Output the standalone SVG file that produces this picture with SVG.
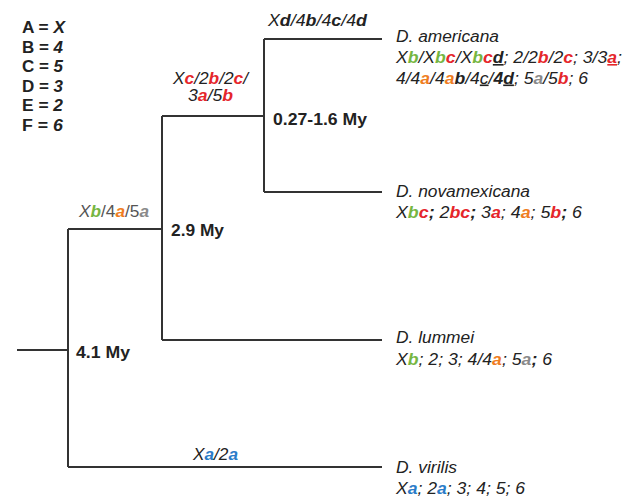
<svg xmlns="http://www.w3.org/2000/svg" width="630" height="500" viewBox="0 0 630 500">
<style>
text{font-family:"Liberation Sans",Arial,sans-serif;font-size:16px;fill:#222}
.i{font-style:italic}
.b{font-weight:bold}
.g{fill:#76b642;font-weight:bold}
.r{fill:#e5262b;font-weight:bold}
.o{fill:#ef7d22;font-weight:bold}
.y{fill:#8a8a8a;font-weight:bold}
.bl{fill:#2a7cc8;font-weight:bold}
.k{font-weight:bold}
.u{text-decoration:underline}
.gr{fill:#555}
.ln{stroke:#333;stroke-width:2;fill:none}
</style>
<rect width="630" height="500" fill="#fff"/>
<g id="legend">
<text class="b" x="22" y="33" textLength="43" lengthAdjust="spacingAndGlyphs">A = <tspan class="i">X</tspan></text>
<text class="b" x="22" y="52.5" textLength="41" lengthAdjust="spacingAndGlyphs">B = <tspan class="i">4</tspan></text>
<text class="b" x="22" y="72" textLength="41" lengthAdjust="spacingAndGlyphs">C = <tspan class="i">5</tspan></text>
<text class="b" x="22" y="91.5" textLength="41" lengthAdjust="spacingAndGlyphs">D = <tspan class="i">3</tspan></text>
<text class="b" x="22" y="111" textLength="41" lengthAdjust="spacingAndGlyphs">E = <tspan class="i">2</tspan></text>
<text class="b" x="22" y="130.5" textLength="41" lengthAdjust="spacingAndGlyphs">F = <tspan class="i">6</tspan></text>
</g>
<g id="connectors">
<path class="ln" d="M17 350H68M68 229V467M68 229H162M162 116V340M162 116H264M264 39V192M264 39H382M264 192H382M162 340H382M68 467H382"/>
</g>
<g id="node-root">
<text class="b" x="76" y="358" textLength="54" lengthAdjust="spacingAndGlyphs">4.1 My</text>
</g>
<g id="node-29">
<text class="i" x="79" y="217" textLength="70" lengthAdjust="spacingAndGlyphs"><tspan class="gr">X</tspan><tspan class="g">b</tspan><tspan class="gr" font-style="normal">/4</tspan><tspan class="o">a</tspan><tspan class="gr" font-style="normal">/5</tspan><tspan class="y" font-weight="normal">a</tspan></text>
<text class="b" x="171" y="236" textLength="53" lengthAdjust="spacingAndGlyphs">2.9 My</text>
</g>
<g id="node-027">
<text class="i" x="173" y="84" textLength="75" lengthAdjust="spacingAndGlyphs">X<tspan class="r">c</tspan>/2<tspan class="r">b</tspan>/2<tspan class="r">c</tspan>/</text>
<text class="i" x="188" y="101" textLength="45" lengthAdjust="spacingAndGlyphs">3<tspan class="r">a</tspan>/5<tspan class="r">b</tspan></text>
<text class="b" x="273" y="125" textLength="94" lengthAdjust="spacingAndGlyphs">0.27-1.6 My</text>
</g>
<g id="node-americana">
<text class="i" x="268" y="26" textLength="99" lengthAdjust="spacingAndGlyphs">X<tspan class="k">d</tspan>/4<tspan class="k">b</tspan>/4<tspan class="k">c</tspan>/4<tspan class="k">d</tspan></text>
<text class="i" x="396" y="41.5" textLength="103" lengthAdjust="spacingAndGlyphs">D. americana</text>
<text class="i" x="396" y="63" textLength="226" lengthAdjust="spacingAndGlyphs">X<tspan class="g">b</tspan>/X<tspan class="g">b</tspan><tspan class="r">c</tspan>/X<tspan class="g">b</tspan><tspan class="r">c</tspan><tspan class="k u">d</tspan>; 2/2<tspan class="r">b</tspan>/2<tspan class="r">c</tspan>; 3/3<tspan class="r u">a</tspan>;</text>
<text class="i" x="396" y="83.5" textLength="192" lengthAdjust="spacingAndGlyphs">4/4<tspan class="o">a</tspan>/4<tspan class="o">a</tspan><tspan class="k">b</tspan>/4<tspan class="u">c</tspan>/<tspan class="k">4</tspan><tspan class="k u">d</tspan>; 5<tspan class="y">a</tspan>/5<tspan class="r">b</tspan>; 6</text>
</g>
<g id="node-novamexicana">
<text class="i" x="396" y="197" textLength="134" lengthAdjust="spacingAndGlyphs">D. novamexicana</text>
<text class="i" x="396" y="217.5" textLength="186" lengthAdjust="spacingAndGlyphs">X<tspan class="g">b</tspan><tspan class="r">c</tspan><tspan class="k">;</tspan> 2<tspan class="r">bc</tspan><tspan class="k">;</tspan> 3<tspan class="r">a</tspan>; 4<tspan class="o">a</tspan>; 5<tspan class="r">b</tspan><tspan class="k">;</tspan> 6</text>
</g>
<g id="node-lummei">
<text class="i" x="396" y="343" textLength="78" lengthAdjust="spacingAndGlyphs">D. lummei</text>
<text class="i" x="396" y="365" textLength="156" lengthAdjust="spacingAndGlyphs">X<tspan class="g">b</tspan>; 2; 3; 4/4<tspan class="o">a</tspan>; 5<tspan class="y">a</tspan><tspan class="k">;</tspan> 6</text>
</g>
<g id="node-virilis">
<text class="i" x="193" y="460" textLength="45" lengthAdjust="spacingAndGlyphs">X<tspan class="bl">a</tspan>/2<tspan class="bl">a</tspan></text>
<text class="i" x="396" y="473" textLength="61" lengthAdjust="spacingAndGlyphs">D. virilis</text>
<text class="i" x="396" y="493.5" textLength="129" lengthAdjust="spacingAndGlyphs">X<tspan class="bl">a</tspan>; 2<tspan class="bl">a</tspan>; 3; 4; 5; 6</text>
</g>
</svg>
